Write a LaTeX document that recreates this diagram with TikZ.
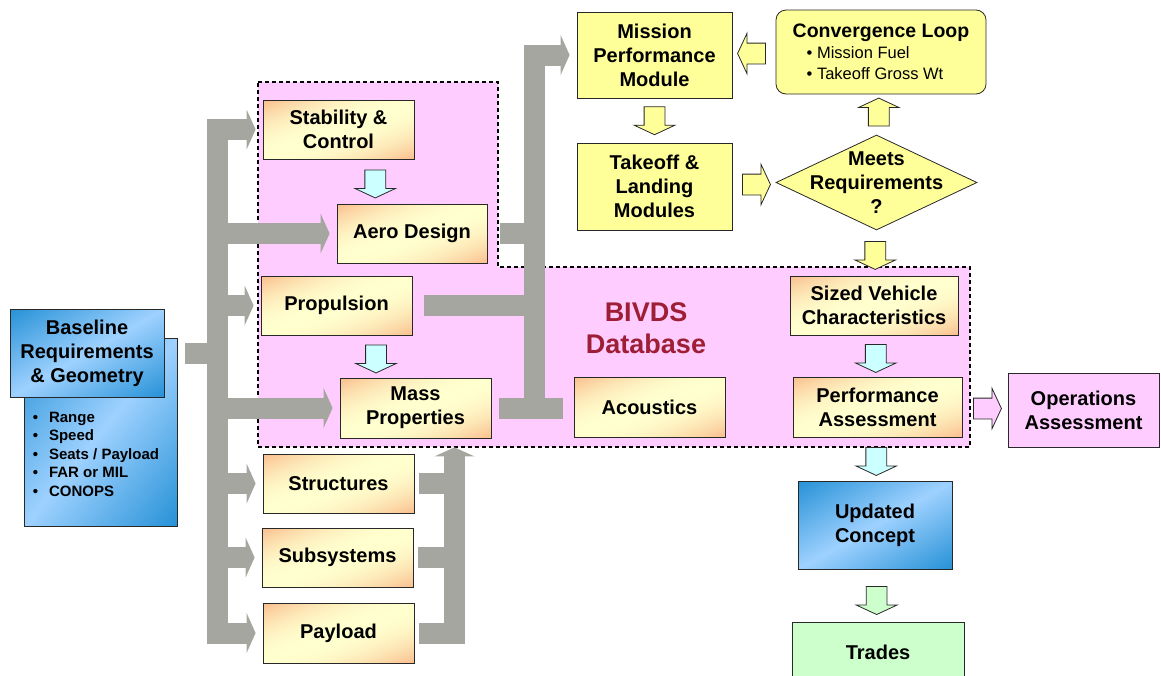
\documentclass[tikz,border=0pt]{standalone}
\usepackage{fontspec}
\setmainfont{Liberation Sans}
\usetikzlibrary{shapes.geometric,shapes.arrows,arrows.meta,calc,backgrounds}

\definecolor{pipegray}{RGB}{166,166,160}
\definecolor{dbpink}{RGB}{255,204,255}
\definecolor{dbred}{RGB}{158,31,53}
\definecolor{loopyellow}{RGB}{255,255,153}
\definecolor{stepcyan}{RGB}{204,255,255}
\definecolor{tradegreen}{RGB}{204,255,204}
\definecolor{framegray}{RGB}{40,40,40}

% diagonal fades: cream/light in the middle, darker toward the top left and bottom right corners
\pgfdeclarefunctionalshading{modshade}{\pgfpoint{0bp}{0bp}}{\pgfpoint{100bp}{100bp}}{}{
	sub abs 50 div dup 1 gt {pop 1} if dup mul
	dup -0.02 mul 1 add exch
	dup -0.26 mul 1 add exch
	-0.26 mul 0.81 add
}
\pgfdeclarefunctionalshading{reqshade}{\pgfpoint{0bp}{0bp}}{\pgfpoint{100bp}{100bp}}{}{
	sub abs 50 div dup 1 gt {pop 1} if
	dup -0.47 mul 0.62 add exch
	dup -0.25 mul 0.82 add exch
	-0.16 mul 1 add
}

\tikzset{
	module/.style={draw=framegray, line width=0.8pt, align=center, inner sep=0pt},
	boxsize/.style 2 args={minimum width=#1, minimum height=#2},
	disc/.style={module, shading=modshade},
	req/.style={module, shading=reqshade},
	sizing/.style={module, fill=loopyellow},
	flow/.style={single arrow, draw=framegray, line width=0.8pt, inner xsep=0pt, inner ysep=10pt, minimum width=40pt, minimum height=28pt,
		single arrow head extend=10pt, single arrow tip angle=130, single arrow head indent=0pt},
	pipe/.style={draw=pipegray, line width=21pt},
	feed/.style={pipe, line join=miter, shorten >=7pt, -{Triangle[width=40pt,length=9pt,line width=0pt]}}
}

\begin{document}
\begin{tikzpicture}[x=1pt, y=-1pt, font=\fontsize{20}{24}\selectfont\bfseries]
	\useasboundingbox (0,0) rectangle (1161,675);

	\node[req, boxsize={153}{188}] (reqlist) at (100.5,432) {};
	\node[req, boxsize={154}{88}] (reqs) at (87,353) {Baseline\\Requirements\\\& Geometry};
	\node[anchor=north west, align=left, inner sep=0pt, font=\fontsize{15}{18.5}\selectfont\bfseries] (reqitems)
		at ($(reqlist.north west)+(9,74)$)
		{\textbullet\hspace{11pt}Range\\ \textbullet\hspace{11pt}Speed\\ \textbullet\hspace{11pt}Seats / Payload\\
		 \textbullet\hspace{11pt}FAR or MIL\\ \textbullet\hspace{11pt}CONOPS};

	\node[disc, boxsize={151}{59}] (stab) at (338.5,129.5) {Stability \&\\Control};
	\node[disc, boxsize={150}{59}] (aero) at (412,233.5) {Aero Design};
	\node[disc, boxsize={151}{59}] (prop) at (336.5,305.5) {Propulsion};
	\node[disc, boxsize={151}{60}] (mass) at (415.5,408) {Mass\\Properties};
	\node[disc, boxsize={151}{59}] (struc) at (338.5,483.5) {Structures};
	\node[disc, boxsize={151}{59}] (subs) at (337.5,557.5) {Subsystems};
	\node[disc, boxsize={151}{60}] (pay) at (338.5,633) {Payload};
	\node[disc, boxsize={151}{60}] (acou) at (649.5,407) {Acoustics};
	\node[disc, boxsize={168}{59}] (sized) at (874,305.5) {Sized Vehicle\\Characteristics};
	\node[disc, boxsize={169}{60}] (perf) at (877.5,407) {Performance\\Assessment};

	\node[sizing, boxsize={155}{86}] (mis) at (654.5,55) {Mission\\Performance\\Module};
	\node[sizing, boxsize={155}{87}] (tak) at (654.5,186.5) {Takeoff \&\\Landing\\Modules};
	\node[sizing, rounded corners=10pt, boxsize={210}{84}, align=left, font=\fontsize{16.5}{21}\selectfont\mdseries] (conv) at (881,52)
		{{\fontsize{19.5}{23}\selectfont\bfseries Convergence Loop}\\
		 \hspace*{14pt}\textbullet\ Mission Fuel\\
		 \hspace*{14pt}\textbullet\ Takeoff Gross Wt};
	\node[sizing, diamond, boxsize={201}{95}] (dia) at (876.5,182.5) {};
	\node[align=center, inner sep=0pt] (diatext) at (dia) {Meets\\Requirements\\?};

	\node[req, boxsize={154}{88}] (upd) at (875,525) {Updated\\Concept};
	\node[module, fill=tradegreen, boxsize={172}{60}] (trades) at (878,652) {Trades};
	\node[module, fill=dbpink, boxsize={151}{74}] (ops) at (1083.5,410) {Operations\\Assessment};
	\node[text=dbred, align=center, font=\fontsize{27}{32}\selectfont\bfseries] (bivds) at (646,328) {BIVDS\\Database};

	\begin{scope}[on background layer]
		\draw[fill=dbpink, line width=1.2pt, dash pattern=on 4pt off 3pt]
			(258,82) -- (498,82) -- (498,267) -- (970,267) -- (970,447) -- (258,447) -- cycle;
	\end{scope}

	\coordinate (trunk) at (217.5,0);
	\coordinate (coll) at (454.5,0);
	\coordinate (riser) at (534,0);

	\draw[pipe, line cap=rect] (trunk |- stab) -- (trunk |- pay);
	\draw[pipe] ($(reqs.east -| reqlist.east)+(8,0)$) -- (trunk |- reqs);
	\foreach \b in {stab,aero,prop,mass,struc,subs,pay}
		\draw[feed] (trunk |- \b) -- (\b.west);

	\draw[pipe] ($(struc.east)+(5,0)$) -- (coll |- struc);
	\draw[pipe] ($(subs.east)+(5,0)$) -- (coll |- subs);
	\draw[feed, shorten >=9pt] ($(pay.east)+(5,0)$) -| (coll |- mass.south);

	\draw[pipe] ($(mass.east)+(8,0)$) -- ($(mass.east -| acou.west)+(-11,0)$);
	\draw[pipe] ($(aero.east)+(13,0)$) -- (riser |- aero);
	\draw[pipe] ($(prop.east)+(12,0)$) -- (riser |- prop);
	\draw[feed] (riser |- mass) |- (mis.west);

	\node[flow, fill=stepcyan, rotate=-90] (toaero) at ($(stab.south)!.5!(aero.north)$) {};
	\node[flow, fill=stepcyan, rotate=-90] (tomass) at ($(prop.south)!.5!(mass.north)$) {};
	\node[flow, fill=loopyellow, rotate=-90] (totak) at ($(mis.south)!.45!(tak.north)$) {};
	\node[flow, fill=loopyellow, rotate=180] (tomis) at ($(conv.west)!.5!(mis.east)$) {};
	\node[flow, fill=loopyellow] (todia) at ($(tak.east)!.5!(dia.west)$) {};
	\node[flow, fill=loopyellow, rotate=90] (toconv) at ($(dia.north)!.5!(conv.south)$) {};
	\node[flow, fill=loopyellow, rotate=-90] (todb) at ($(dia.south)!.5!(sized.north)$) {};
	\node[flow, fill=stepcyan, rotate=-90] (toperf) at ($(sized.south)!.5!(perf.north)$) {};
	\node[flow, fill=stepcyan, rotate=-90] (toupd) at ($(perf.south)!.5!(upd.north)$) {};
	\node[flow, fill=tradegreen, rotate=-90] (totrades) at ($(upd.south)!.55!(trades.north)$) {};
	\node[flow, fill=dbpink] (toops) at ($(perf.east)!.5!(ops.west)$) {};
\end{tikzpicture}
\end{document}
